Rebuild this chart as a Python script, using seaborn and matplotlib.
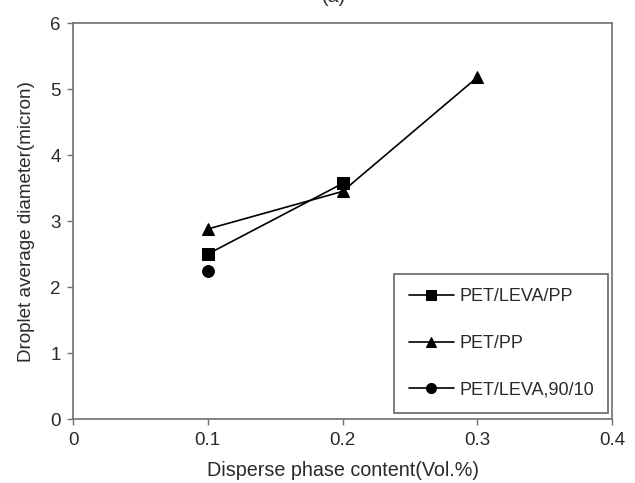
import matplotlib
matplotlib.use("Agg")
import matplotlib.pyplot as plt
import seaborn as sns
import pandas as pd

# ── Data ────────────────────────────────────────────────────────────────────
series_names = ["PET/LEVA/PP", "PET/PP", "PET/LEVA,90/10"]
x_leva_pp = [0.1, 0.2]
y_leva_pp = [2.50, 3.57]
x_pet_pp = [0.1, 0.2, 0.3]
y_pet_pp = [2.88, 3.45, 5.18]
x_leva_9010 = [0.1]
y_leva_9010 = [2.25]

x_ticks = [0, 0.1, 0.2, 0.3, 0.4]
x_tick_labels = ["0", "0.1", "0.2", "0.3", "0.4"]
y_ticks = [0, 1, 2, 3, 4, 5, 6]

rows = []
for name, xs, ys in zip(series_names,
                        [x_leva_pp, x_pet_pp, x_leva_9010],
                        [y_leva_pp, y_pet_pp, y_leva_9010]):
    for xv, yv in zip(xs, ys):
        rows.append({"series": name, "content": xv, "diameter": yv})
df = pd.DataFrame(rows)

# ── Style ───────────────────────────────────────────────────────────────────
sns.set_style("white")
plt.rcParams["font.family"] = ["Liberation Sans", "DejaVu Sans"]
text_color = "#2a2a2a"
axis_color = "#707070"

fig = plt.figure(figsize=(6.35, 4.83), dpi=100)
ax = fig.add_axes([0.115, 0.1325, 0.849, 0.8195])

sns.lineplot(data=df, x="content", y="diameter", hue="series", style="series",
             hue_order=series_names, style_order=series_names,
             palette=["black"] * 3, markers=["s", "^", "o"], dashes=False,
             markersize=8.5, markeredgecolor="black", linewidth=1.2,
             sort=True, ax=ax)

ax.set_xlim(0, 0.4)
ax.set_ylim(0, 6)
ax.set_xticks(x_ticks)
ax.set_xticklabels(x_tick_labels)
ax.set_yticks(y_ticks)
ax.tick_params(axis="both", direction="out", length=4, width=1,
               color=axis_color, labelsize=13.5, labelcolor=text_color,
               bottom=True, left=True, pad=5)
for spine in ax.spines.values():
    spine.set_color(axis_color)
    spine.set_linewidth(1.2)

ax.set_xlabel("Disperse phase content(Vol.%)", fontsize=14.2, color=text_color,
              labelpad=9)
ax.set_ylabel("Droplet average diameter(micron)", fontsize=13.6,
              color=text_color, labelpad=11)

leg = ax.legend(loc="lower right", bbox_to_anchor=(0.993, 0.015),
                fontsize=13, frameon=True, fancybox=False, shadow=False,
                labelspacing=1.65, handlelength=2.5, handletextpad=0.3,
                borderpad=0.8, borderaxespad=0, markerscale=0.85)
leg.get_frame().set_edgecolor("#404040")
leg.get_frame().set_linewidth(1.2)
for t in leg.get_texts():
    t.set_color(text_color)

# title of the panel, mostly cut off at the top edge as in the source image
fig.text(0.525, 1 - 1.5 / 483, "(a)", ha="center", va="baseline",
         fontsize=14, color=text_color)

fig.savefig("out.png", dpi=100)
plt.close(fig)
